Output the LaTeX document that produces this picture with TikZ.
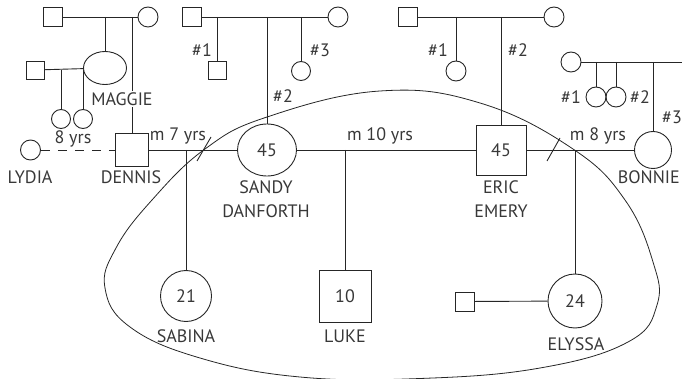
\documentclass[tikz,border=0pt]{standalone}
\usepackage{fontspec}
\setmainfont{PT Sans}
\usetikzlibrary{shapes.geometric}
\begin{document}
\begin{tikzpicture}[x=1pt,y=-1pt,
  every node/.style={font=\fontsize{18}{24}\selectfont, text=black!78, inner sep=0pt},
  line/.style={draw=black!85, line width=0.9pt},
  male/.style={line, rectangle, minimum size=#1},
  fem/.style={line, circle, minimum size=#1},
  lbl/.style={inner sep=1pt}]
\useasboundingbox (0,0) rectangle (682,379);
\clip (0,0) rectangle (682,379);

% ---------- Maggie's / Dennis' parents
\node[male=19] (gpA) at (53,17) {};
\node[fem=20] (gmA) at (148,17) {};
\draw[line] (gpA) -- (gmA);
\coordinate (pA1) at (105,17);
\coordinate (pA2) at (132,17);
\node[line, ellipse, minimum width=43, minimum height=33] (maggie) at (105,68) {};
\draw[line] (pA1) -- (maggie);
\node[male=18] (mh) at (35,70) {};
\draw[line] (mh) -- (maggie);
\coordinate (mc1) at (61,70);
\coordinate (mc2) at (83,70);
\node[fem=19] (d1) at (61,119) {};
\node[fem=19] (d2) at (83,119) {};
\draw[line] (mc1) -- (d1);
\draw[line] (mc2) -- (d2);
\node[male=33] (dennis) at (132,150) {};
\draw[line] (pA2) -- (dennis);
\node[lbl, fill=white] (maggieL) at (122,99) {MAGGIE};

% ---------- Lydia
\node[fem=20] (lydia) at (30.5,150) {};
\draw[line, dash pattern=on 9pt off 8pt] (lydia) -- (dennis);
\node[lbl] (lydiaL) at (30,177) {LYDIA};
\node[lbl] (dennisL) at (131,177) {DENNIS};
\node[lbl] (yrs8) at (73,139) {8 yrs};

% ---------- Sandy's parents
\node[male=19] (gpB) at (192,17) {};
\node[fem=20] (gmB) at (338,17) {};
\draw[line] (gpB) -- (gmB);
\coordinate (pB1) at (217,17);
\coordinate (pB2) at (267,17);
\coordinate (pB3) at (301,17);
\node[male=18] (sb1) at (217,70) {};
\node[fem=19] (sb3) at (301,71) {};
\draw[line] (pB1) -- (sb1);
\draw[line] (pB3) -- (sb3);
\node[lbl] (b1L) at (202,50) {\#1};
\node[lbl] (b2L) at (283,96) {\#2};
\node[lbl] (b3L) at (320,50) {\#3};

% ---------- Sandy
\node[line, ellipse, minimum width=59, minimum height=52] (sandy) at (267,150) {45};
\draw[line] (pB2) -- (sandy);
\draw[line] (dennis) -- (sandy);
\node[lbl, align=center] (sandyL) at (266,199) {SANDY\\DANFORTH};
\node[lbl] (m7) at (178,136) {m 7 yrs};
\coordinate (ds) at (186,150);
\node[fem=51] (sabina) at (186,296) {21};
\draw[line] (ds) -- (sabina);
\node[lbl] (sabinaL) at (186,336) {SABINA};
\coordinate (s1a) at (197,161);
\coordinate (s1b) at (211,137);
\draw[line] (s1a) -- (s1b);

% ---------- Eric's parents
\node[male=19] (gpC) at (408,17) {};
\node[fem=20] (gmC) at (554,17) {};
\draw[line] (gpC) -- (gmC);
\coordinate (pC1) at (456,17);
\coordinate (pC2) at (501,17);
\node[fem=20] (sc1) at (456,71) {};
\draw[line] (pC1) -- (sc1);
\node[lbl] (c1L) at (438,50) {\#1};
\node[lbl] (c2L) at (518,50) {\#2};

% ---------- Eric
\node[male=50] (eric) at (501,150) {45};
\draw[line] (pC2) -- (eric);
\draw[line] (sandy) -- (eric);
\node[lbl] (m10) at (380,136) {m 10 yrs};
\coordinate (se) at (345,150);
\node[male=52] (luke) at (345,296) {10};
\draw[line] (se) -- (luke);
\node[lbl] (lukeL) at (345,336) {LUKE};
\node[lbl, align=center] (ericL) at (501,199) {ERIC\\EMERY};

% ---------- Bonnie's parents
\node[fem=20] (gmD) at (571,62) {};
\coordinate (gpD) at (682,62);
\draw[line] (gmD) -- (gpD);
\coordinate (pD1) at (596,62);
\coordinate (pD2) at (616,62);
\coordinate (pD3) at (653,62);
\node[fem=20] (sd1) at (596,97) {};
\node[fem=20] (sd2) at (616,97) {};
\draw[line] (pD1) -- (sd1);
\draw[line] (pD2) -- (sd2);
\node[lbl] (d1L) at (571,97) {\#1};
\node[lbl] (d2L) at (640,97) {\#2};
\node[lbl] (d3L) at (672,117) {\#3};

% ---------- Bonnie
\node[fem=37] (bonnie) at (653,150) {};
\draw[line] (pD3) -- (bonnie);
\draw[line] (eric) -- (bonnie);
\node[lbl, anchor=east] (bonnieL) at (681,177) {BONNIE};
\node[lbl] (m8) at (598,136) {m 8 yrs};
\coordinate (s2a) at (547,161);
\coordinate (s2b) at (560,138);
\draw[line] (s2a) -- (s2b);
\coordinate (eb) at (575,150);
\node[fem=54] (elyssa) at (575,301) {24};
\draw[line] (eb) -- (elyssa);
\node[lbl] (elyssaL) at (576,344) {ELYSSA};
\node[male=19] (eh) at (465,301.5) {};
\draw[line] (eh) -- (elyssa);

% ---------- household boundary
\draw[line, line width=0.8pt] plot[smooth cycle, tension=0.7] coordinates {
 (152,200) (205,149) (267,117) (380,91) (480,103) (573,149) (625,200)
 (653,262) (657,305) (628,342) (540,368) (420,378.5) (300,377) (200,358)
 (130,327) (105,288) (116,248)};
\end{tikzpicture}
\end{document}
